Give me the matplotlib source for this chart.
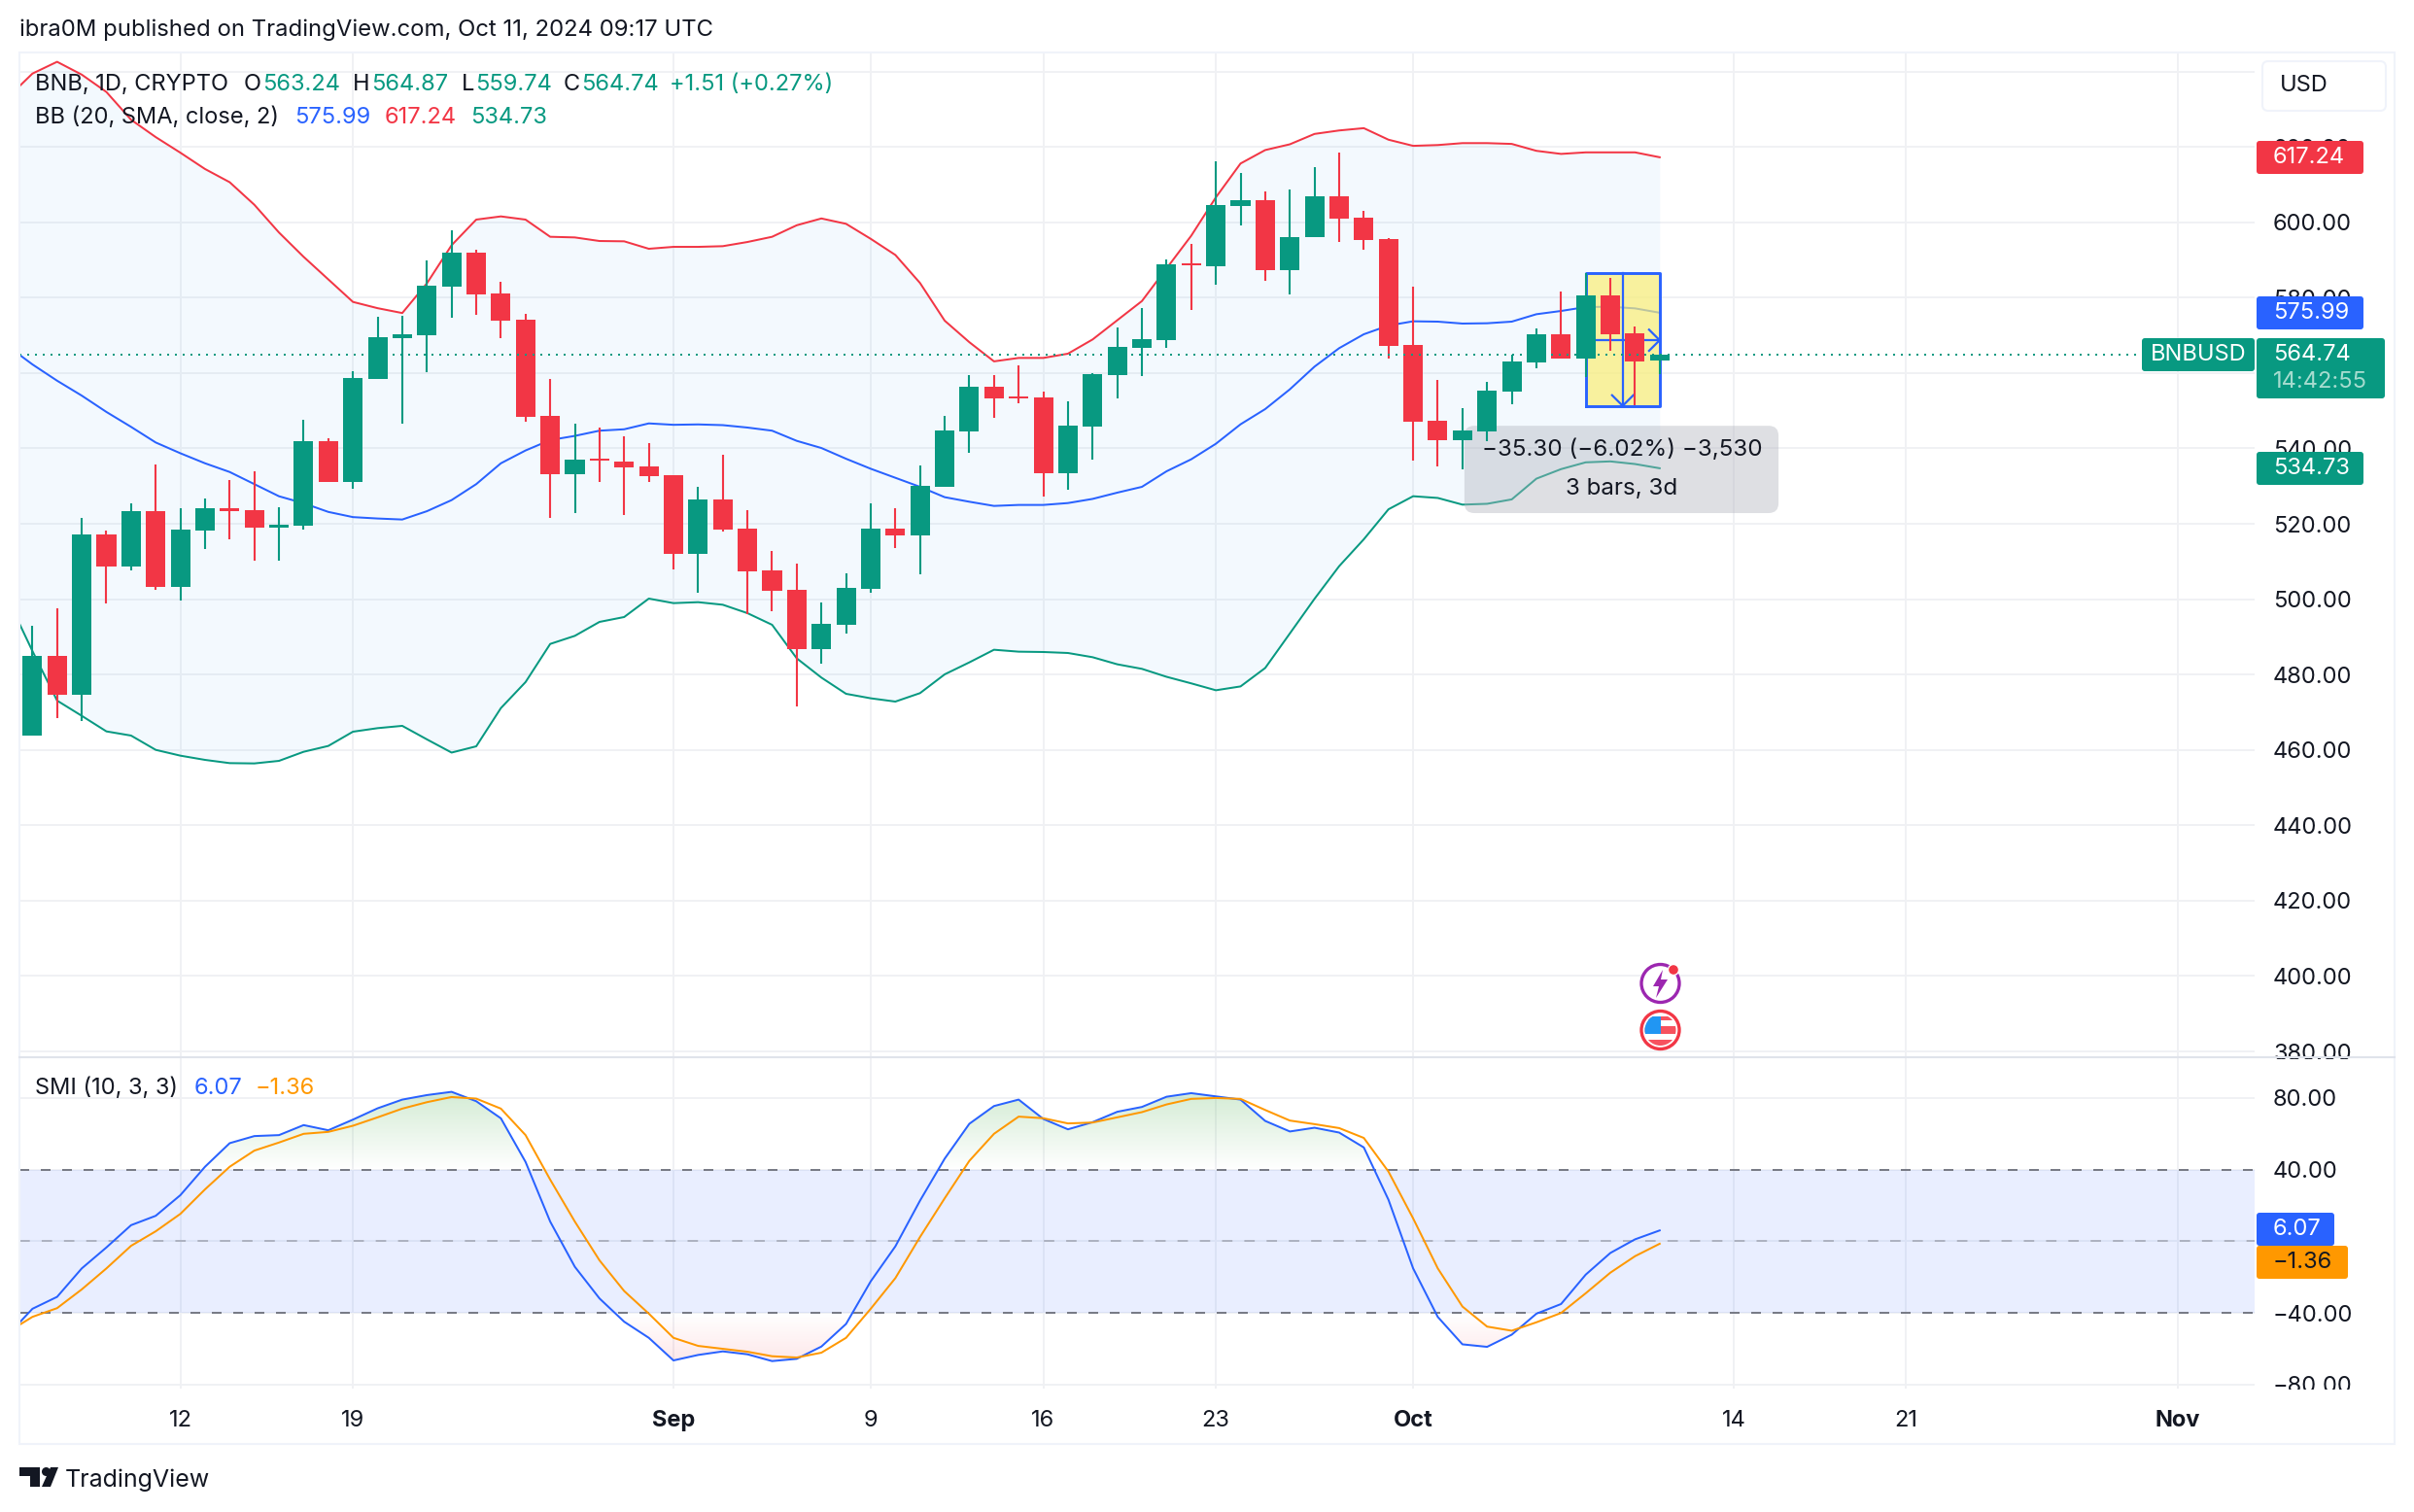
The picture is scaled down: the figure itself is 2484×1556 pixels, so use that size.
import numpy as np
import pandas as pd
import matplotlib
matplotlib.use("Agg")
import matplotlib.pyplot as plt
import matplotlib.dates as mdates
from matplotlib.patches import FancyBboxPatch, Rectangle, Circle, Polygon
from matplotlib.path import Path

plt.rcParams['font.family'] = ['Inter', 'DejaVu Sans']

W, H = 2484, 1556

VERDE = '#089981'
VERMELHO = '#F23645'
AZUL = '#2962FF'
LARANJA = '#FF9800'
TEXTO = '#131722'
GRADE = '#F0F1F4'
FONTE = 17

# dias com linhas (o primeiro fica fora da borda esquerda, so para a linha entrar no quadro)
dias = pd.date_range('2024-08-05', '2024-10-11')

abertura = [463.89, 484.95, 474.72, 517.17, 508.66, 523.36, 503.25, 518.2, 524.13, 523.62, 518.98, 519.49, 541.92,
            531.09, 558.5, 569.24, 570.02, 582.9, 591.93, 581.1, 574.14, 548.62, 533.15, 537.28, 536.5, 535.21,
            532.9, 512.01, 526.45, 518.72, 507.63, 502.48, 486.75, 493.2, 502.74, 518.72, 516.92, 529.8, 544.5,
            556.36, 553.78, 553.52, 533.42, 545.79, 559.45, 566.67, 568.73, 589.1, 588.32, 604.31, 605.86, 587.29,
            596.06, 606.89, 601.22, 595.54, 567.44, 547.33, 542.18, 544.5, 555.06, 562.8, 570.28, 563.83, 580.59,
            570.53, 563.24]
maximas = [492.9, 497.58, 521.55, 518.2, 525.42, 535.73, 524.13, 526.71, 531.6, 533.93, 524.39, 547.59, 542.69,
           560.6, 574.9, 575.17, 589.87, 597.86, 592.7, 584.19, 575.69, 558.41, 546.56, 545.52, 543.2, 541.4,
           532.9, 529.8, 538.3, 523.61, 512.8, 509.44, 499.13, 506.86, 525.42, 524.13, 535.48, 548.63, 559.45,
           559.45, 562.0, 555.07, 552.49, 559.9, 572.08, 577.24, 590.13, 594.25, 616.17, 613.07, 608.18, 608.69,
           614.62, 618.49, 603.02, 595.8, 582.91, 558.16, 550.69, 557.65, 564.86, 571.82, 581.62, 586.4, 585.23,
           572.34, 564.87]
minimas = [463.89, 468.45, 467.67, 498.87, 507.63, 502.48, 499.64, 513.3, 515.88, 510.2, 510.2, 518.46, 531.09,
           529.3, 558.3, 546.56, 560.22, 574.66, 575.43, 569.24, 547.07, 521.55, 522.84, 531.09, 522.32, 531.09,
           507.89, 501.7, 517.94, 496.1, 496.81, 471.54, 482.89, 490.88, 501.7, 513.57, 506.6, 529.8, 538.83,
           548.11, 551.98, 527.23, 529.03, 537.03, 553.26, 559.19, 566.67, 576.72, 583.43, 599.15, 584.46, 580.85,
           596.06, 594.77, 592.71, 563.83, 536.77, 535.22, 534.44, 541.92, 551.71, 561.25, 563.83, 559.0, 565.89,
           551.37, 559.74]
fechamento = [484.95, 474.72, 517.17, 508.66, 523.36, 503.25, 518.46, 524.13, 523.36, 518.98, 519.75, 541.92, 531.09,
              558.7, 569.5, 570.27, 583.16, 591.93, 580.84, 573.88, 548.36, 533.15, 537.02, 536.76, 534.96, 532.63,
              512.01, 526.45, 518.46, 507.37, 502.21, 486.75, 493.46, 503.0, 518.72, 516.92, 530.06, 544.76, 556.36,
              553.27, 553.27, 533.42, 546.05, 559.71, 566.93, 568.99, 588.84, 588.58, 604.57, 605.86, 587.29, 596.06,
              606.89, 600.96, 595.29, 567.19, 547.08, 542.18, 544.76, 555.33, 563.06, 570.28, 563.83, 580.58, 570.28,
              563.06, 564.74]

bb_sup = [633.1, 639.44, 642.57, 639.16, 634.56, 627.2, 622.59, 618.45, 614.12, 610.62, 604.64, 597.27, 590.82, 584.84,
          578.86, 577.2, 575.91, 583.8, 593.9, 600.7, 601.55, 600.7, 596.14, 595.97, 595.02, 594.94, 592.96, 593.47,
          593.47, 593.65, 594.76, 596.14, 599.2, 601.0, 599.58, 595.6, 591.32, 583.88, 573.89, 568.18, 563.09, 564.0,
          564.0, 565.13, 568.9, 574.0, 579.09, 587.76, 596.42, 606.61, 615.58, 619.15, 620.68, 623.43, 624.35, 624.96,
          621.9, 620.27, 620.48, 620.99, 620.99, 620.78, 618.95, 618.13, 618.54, 618.54, 618.54, 617.24]
bb_meio = [567.15, 562.28, 557.96, 554.0, 549.67, 545.71, 541.57, 538.71, 536.05, 533.74, 530.52, 527.3, 525.45, 523.15,
           521.77, 521.4, 521.13, 523.34, 526.28, 530.52, 536.05, 539.45, 542.21, 543.32, 544.7, 545.07, 546.63, 546.26,
           546.36, 546.17, 545.53, 544.7, 542.0, 540.1, 537.25, 534.6, 532.2, 529.8, 527.06, 525.85, 524.74, 525.0,
           525.0, 525.5, 526.6, 528.26, 529.8, 533.93, 537.11, 541.23, 546.39, 550.43, 555.67, 561.69, 566.59, 570.28,
           572.6, 573.72, 573.63, 573.12, 573.2, 573.63, 575.6, 576.46, 577.5, 577.58, 577.15, 575.99]
bb_inf = [500.0, 486.23, 473.09, 469.05, 464.92, 463.81, 460.02, 458.48, 457.36, 456.5, 456.42, 457.1, 459.51, 461.06,
          464.84, 465.78, 466.39, 462.8, 459.3, 460.96, 471.1, 478.0, 488.12, 490.27, 493.97, 495.26, 500.15, 498.95,
          499.2, 498.52, 496.29, 493.2, 484.3, 479.19, 474.89, 473.7, 472.83, 475.07, 480.05, 483.23, 486.58, 486.07,
          485.98, 485.72, 484.6, 482.72, 481.51, 479.4, 477.66, 475.83, 476.85, 481.74, 490.9, 500.09, 508.75, 515.89,
          523.84, 527.31, 526.85, 525.08, 525.3, 526.47, 531.97, 534.5, 536.3, 536.55, 535.85, 534.73]

smi = [-52.3, -37.66, -31.0, -15.13, -3.42, 9.01, 14.24, 25.77, 41.62, 54.78, 58.74, 59.28, 64.87, 61.98, 67.93, 74.24,
       79.1, 81.62, 83.43, 78.2, 68.65, 44.33, 11.0, -14.23, -31.89, -44.86, -53.87, -66.48, -63.42, -61.44, -63.06,
       -66.85, -65.58, -58.74, -46.12, -22.34, -2.8, 22.7, 46.13, 65.6, 75.5, 79.1, 68.3, 62.5, 66.5, 72.3, 75.0, 80.7,
       82.7, 80.9, 79.1, 67.2, 61.3, 63.4, 60.7, 52.4, 23.2, -15.1, -42.2, -57.5, -58.9, -52.1, -40.4, -35.0, -18.6,
       -6.5, 1.1, 6.07]
smi_sinal = [-50.65, -42.16, -37.3, -26.84, -15.13, -2.52, 5.59, 15.32, 29.0, 41.62, 50.63, 55.14, 60.0, 61.08, 64.51,
             69.19, 74.06, 77.66, 80.54, 79.64, 74.06, 59.28, 34.42, 11.0, -10.63, -27.74, -40.36, -53.87, -58.37, -60.0,
             -61.62, -64.14, -64.86, -62.16, -53.87, -37.66, -20.54, 2.4, 24.0, 44.9, 60.0, 69.6, 68.7, 65.8, 66.3, 69.2,
             72.1, 76.4, 79.5, 80.0, 79.5, 73.3, 67.4, 65.4, 63.2, 57.7, 38.9, 12.8, -15.1, -36.4, -47.6, -49.9, -45.2,
             -40.0, -29.0, -17.5, -8.3, -1.36]

preco_atual = 564.74
medida_topo = 586.6
medida_base = 551.3

ticks_preco = list(range(380, 660, 20))
ticks_smi = [-80, -40, 0, 40, 80]
ticks_datas = ['2024-08-12', '2024-08-19', '2024-09-01', '2024-09-09', '2024-09-16', '2024-09-23',
               '2024-10-01', '2024-10-14', '2024-10-21', '2024-11-01']
rotulos_datas = ['12', '19', 'Sep', '9', '16', '23', 'Oct', '14', '21', 'Nov']
rotulos_negrito = ['Sep', 'Oct', 'Nov']


def eixo_px(fig, x0, y0, x1, y1):
    return fig.add_axes([x0 / W, 1 - y1 / H, (x1 - x0) / W, (y1 - y0) / H])


def etiqueta(ov, x0, y0, x1, y1, cor):
    ov.add_patch(FancyBboxPatch((x0, y0), x1 - x0, y1 - y0, boxstyle='round,pad=0,rounding_size=3',
                                fc=cor, ec='none'))


def ajustar_eixo(ax, ticks, rotulos, xlim):
    ax.set_facecolor('white')
    for s in ax.spines.values():
        s.set_visible(False)
    ax.set_axisbelow(True)
    ax.grid(True, color=GRADE, lw=1.44)
    ax.set_xlim(*xlim)
    ax.xaxis.set_major_locator(plt.FixedLocator(mdates.date2num(pd.to_datetime(ticks_datas))))
    ax.yaxis.tick_right()
    ax.set_yticks(ticks, rotulos)
    ax.tick_params(axis='y', length=0, pad=13.7, labelsize=FONTE, labelcolor=TEXTO)
    ax.tick_params(axis='x', length=0)


fmt = lambda v: f'{v:.2f}'.replace('-', '\u2212')

fig = plt.figure(figsize=(W / 100, H / 100), dpi=100, facecolor='white')
ax = eixo_px(fig, 20, 54, 2320, 1087)
ax2 = eixo_px(fig, 20, 1089, 2320, 1429)

x = mdates.date2num(dias)
x_barras = x[1:]
dia_px = 25.37
x_set = mdates.date2num(pd.Timestamp('2024-09-01'))
xlim = (x_set + (20 - 693) / dia_px, x_set + (2320 - 693) / dia_px)

# painel de preco
ajustar_eixo(ax, ticks_preco, [fmt(v) if v < 640 else '' for v in ticks_preco], xlim)
ax.set_ylim(378.73, 645.04)
ax.tick_params(axis='x', labelbottom=False)

ax.fill_between(x, bb_inf, bb_sup, color='#2196F3', alpha=0.05, lw=0, zorder=1)
ax.plot(x, bb_sup, color=VERMELHO, lw=1.44, zorder=2)
ax.plot(x, bb_meio, color=AZUL, lw=1.44, zorder=2)
ax.plot(x, bb_inf, color=VERDE, lw=1.44, zorder=2)

# ferramenta de medida
m0, m1 = x_barras[-4], x_barras[-1]
mm = (m0 + m1) / 2
m_y = 568.7
ax.add_patch(Rectangle((m0, medida_base), m1 - m0, medida_topo - medida_base, fc='#FBEF76', ec='none', alpha=0.7,
                       zorder=3))
ax.plot([m0, m1, m1, m0, m0], [medida_base, medida_base, medida_topo, medida_topo, medida_base], color=AZUL, lw=2.1,
        zorder=3.1)
ax.plot([mm, mm], [medida_base, medida_topo], color=AZUL, lw=1.6, zorder=3.1)
ax.plot([m0, m1], [m_y, m_y], color=AZUL, lw=1.6, zorder=3.1)
ax.plot([mm - 0.43, mm, mm + 0.43], [medida_base + 2.8, medida_base, medida_base + 2.8], color=AZUL, lw=1.6, zorder=3.1)
ax.plot([m1 - 0.43, m1, m1 - 0.43], [m_y + 2.8, m_y, m_y - 2.8], color=AZUL, lw=1.6, zorder=3.1)

# caixa da medida, fica abaixo das velas
ax.add_patch(FancyBboxPatch((x_barras[-1] - 7.92, 522.84), 12.74, 23.16, boxstyle='round,pad=0,rounding_size=0.4',
                            mutation_aspect=6.45, fc='#B2B5BE', ec='none', alpha=0.42, zorder=4))

# velas
abertura = np.array(abertura)
fechamento = np.array(fechamento)
cores = [VERDE if c >= o else VERMELHO for o, c in zip(abertura, fechamento)]
ax.vlines(x_barras, minimas, maximas, colors=cores, lw=1.5, zorder=5)
ax.bar(x_barras, np.abs(fechamento - abertura), 0.79, bottom=np.minimum(abertura, fechamento), color=cores, zorder=5.1)

ax.hlines(preco_atual, xlim[0], xlim[1], color=VERDE, lw=1.44, linestyle=(0, (1, 3)), zorder=6)

# painel SMI
ajustar_eixo(ax2, ticks_smi, [fmt(v) for v in ticks_smi], xlim)
ax2.set_xticks(mdates.date2num(pd.to_datetime(ticks_datas)), rotulos_datas)
ax2.set_ylim(-82.2, 102.2)
ax2.tick_params(axis='x', pad=15.5, labelsize=FONTE, labelcolor=TEXTO)
for t in ax2.get_xticklabels():
    if t.get_text() in rotulos_negrito:
        t.set_fontweight('bold')

ax2.axhspan(-40, 40, color=AZUL, alpha=0.1, lw=0, zorder=1)
smi_arr = np.array(smi)


def gradiente(limite, ponta, rgb, alfa, onde):
    polis = ax2.fill_between(x, smi_arr, limite, where=onde, interpolate=True, facecolor='none', lw=0)
    caminho = Path.make_compound_path(*polis.get_paths())
    n = 128
    img = np.zeros((n, 2, 4))
    img[..., :3] = rgb
    img[..., 3] = np.linspace(0, alfa, n)[:, None]
    im = ax2.imshow(img, extent=[x[0], x[-1], limite, ponta], origin='lower', aspect='auto', zorder=1.5)
    im.set_clip_path(caminho, transform=ax2.transData)


gradiente(40, 85, (0.30, 0.69, 0.31), 0.25, smi_arr > 40)
gradiente(-40, -70, (0.95, 0.21, 0.27), 0.13, smi_arr < -40)
ax2.set_xlim(*xlim)
ax2.set_ylim(-82.2, 102.2)

ax2.axhline(40, color='#787B86', lw=1.44, linestyle=(0, (5, 6)), zorder=2)
ax2.axhline(-40, color='#787B86', lw=1.44, linestyle=(0, (5, 6)), zorder=2)
ax2.axhline(0, color='#787B86', lw=1.1, alpha=0.6, linestyle=(0, (7, 8)), zorder=2)
ax2.plot(x, smi, color=AZUL, lw=1.44, zorder=3)
ax2.plot(x, smi_sinal, color=LARANJA, lw=1.44, zorder=3)

# camada de cima: moldura, textos, etiquetas, em pixels da figura
ov = fig.add_axes([0, 0, 1, 1], zorder=10)
ov.set_xlim(0, W)
ov.set_ylim(H, 0)
ov.axis('off')
ov.patch.set_visible(False)

ov.add_patch(Rectangle((2322, 1090), 140, 14, fc='white', ec='none'))
ov.add_patch(Rectangle((2322, 1430), 140, 16, fc='white', ec='none'))
ov.add_patch(Rectangle((20, 54), 2444, 1431.5, fc='none', ec='#F0F3FA', lw=1.5))
ov.plot([20, 2464], [1088, 1088], color='#E0E3EB', lw=1.5)
ov.add_patch(FancyBboxPatch((2328, 63), 127, 51, boxstyle='round,pad=0,rounding_size=6', fc='white',
                            ec='#F0F3FA', lw=1.5))
ov.text(2371, 88, 'USD', ha='center', va='center', fontsize=FONTE, color=TEXTO)


def txt(x0, y0, s, cor=TEXTO, tam=FONTE, ha='left', **kw):
    ov.text(x0, y0, s, color=cor, fontsize=tam, ha=ha, va='center', **kw)


txt(20, 31, 'ibra0M published on TradingView.com, Oct 11, 2024 09:17 UTC', tam=17.2)
txt(36, 87, 'BNB, 1D, CRYPTO')
for letra, lx, valor, vx in [('O', 251, '563.24', 270), ('H', 363, '564.87', 382), ('L', 475, '559.74', 489),
                             ('C', 580, '564.74', 598)]:
    txt(lx, 87, letra)
    txt(vx, 87, valor, VERDE)
txt(689, 87, '+1.51 (+0.27%)', VERDE)
txt(36, 121, 'BB (20, SMA, close, 2)')
txt(303, 121, '575.99', AZUL)
txt(396, 121, '617.24', VERMELHO)
txt(484, 121, '534.73', VERDE)
txt(36, 1120, 'SMI (10, 3, 3)')
txt(200, 1120, '6.07', AZUL)
txt(263, 1120, '\u22121.36', LARANJA)

# etiquetas do eixo de precos
etiqueta(ov, 2322, 145, 2432, 179, VERMELHO)
txt(2339, 162, '617.24', 'white')
etiqueta(ov, 2322, 305, 2432, 339, AZUL)
txt(2339, 322, '575.99', 'white')
etiqueta(ov, 2204, 348, 2320, 382, VERDE)
txt(2262, 365, 'BNBUSD', 'white', ha='center')
etiqueta(ov, 2322, 348, 2454, 410, VERDE)
txt(2339, 365, '564.74', 'white')
txt(2339, 393, '14:42:55', '#A6DCCF')
etiqueta(ov, 2322, 465, 2432, 499, VERDE)
txt(2339, 482, '534.73', 'white')
etiqueta(ov, 2322, 1248, 2402, 1282, AZUL)
txt(2339, 1265, '6.07', 'white')
etiqueta(ov, 2322, 1282, 2416, 1316, LARANJA)
txt(2339, 1299, '\u22121.36', TEXTO)

# texto da medida
txt(1669, 463, '\u221235.30 (\u22126.02%) \u22123,530', ha='center', tam=17.4)
txt(1669, 503, '3 bars, 3d', ha='center', tam=17.4)

# icones de eventos
ov.add_patch(Circle((1708.5, 1012), 19.5, fc='white', ec='#9C27B0', lw=2.4))
ov.add_patch(Polygon([(1711, 998), (1701, 1015), (1707, 1015), (1704, 1027), (1716, 1008), (1709, 1008)], fc='#9C27B0',
                     ec='none'))
ov.add_patch(Circle((1722, 998), 5.5, fc=VERMELHO, ec='white', lw=1))
ov.add_patch(Circle((1708.5, 1060), 19.5, fc='white', ec='none'))
faixas = [ov.add_patch(Rectangle((1692, 1046), 34, 4, fc='#F7525F', ec='none')),
          ov.add_patch(Rectangle((1692, 1056), 34, 8, fc='#F7525F', ec='none')),
          ov.add_patch(Rectangle((1692, 1070), 34, 8, fc='#F7525F', ec='none')),
          ov.add_patch(Rectangle((1692, 1046), 17, 18, fc='#2196F3', ec='none'))]
recorte = Circle((1708.5, 1060), 16, transform=ov.transData)
for f in faixas:
    f.set_clip_path(recorte)
ov.add_patch(Circle((1708.5, 1060), 19.5, fc='none', ec=VERMELHO, lw=2.4))

# logo
ov.add_patch(Polygon([(20, 1510), (41, 1510), (41, 1530), (31, 1530), (31, 1519), (20, 1519)], fc=TEXTO, ec='none'))
ov.add_patch(Circle((47.5, 1514.5), 4.5, fc=TEXTO, ec='none'))
ov.add_patch(Polygon([(52, 1510), (60, 1510), (52, 1530), (43, 1530)], fc=TEXTO, ec='none'))
txt(67, 1523, 'TradingView', tam=18)

fig.savefig('out.png', dpi=100, facecolor='white')
